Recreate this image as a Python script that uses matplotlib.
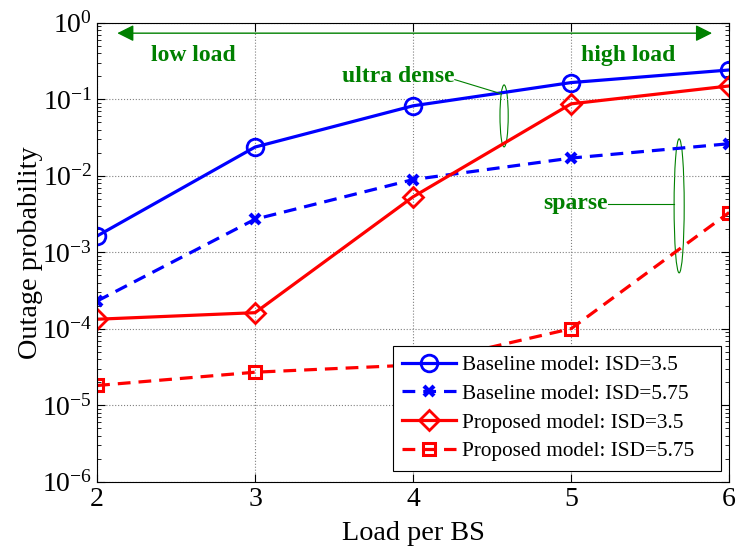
import matplotlib.pyplot as plt
from matplotlib.patches import Ellipse

plt.rcParams['font.family'] = ['Liberation Serif', 'DejaVu Serif']
plt.rcParams['mathtext.fontset'] = 'custom'
plt.rcParams['mathtext.rm'] = 'Liberation Serif'
plt.rcParams['mathtext.it'] = 'Liberation Serif:italic'

load = [2, 3, 4, 5, 6]
base_35 = [1.63e-3, 2.37e-2, 8.2e-2, 0.165, 0.241]
base_575 = [2.3e-4, 2.7e-3, 8.9e-3, 1.7e-2, 2.62e-2]
prop_35 = [1.33e-4, 1.62e-4, 5.3e-3, 8.7e-2, 0.149]
prop_575 = [1.81e-5, 2.7e-5, 3.35e-5, 1.0e-4, 3.3e-3]

fig = plt.figure(figsize=(7.47, 5.54), dpi=100)
ax = fig.add_axes([0.130, 0.1305, 0.846, 0.8285])

lw = 2.3
ax.semilogy(load, base_35, '-', color='blue', lw=lw, marker='o', ms=12, mfc='none', mew=2,
            label='Baseline model: ISD=3.5')
ax.semilogy(load, base_575, '--', color='blue', lw=lw, marker='x', ms=7, mew=3,
            dashes=(4, 2.5), label='Baseline model: ISD=5.75')
ax.semilogy(load, prop_35, '-', color='red', lw=lw, marker='D', ms=10, mfc='none', mew=2,
            label='Proposed model: ISD=3.5')
ax.semilogy(load, prop_575, '--', color='red', lw=lw, marker='s', ms=9, mfc='none', mew=2.2,
            dashes=(4, 2.5), label='Proposed model: ISD=5.75')

ax.set_xlim(2, 6)
ax.set_ylim(1e-6, 1)
ax.set_xticks([2, 3, 4, 5, 6])
ax.tick_params(which='both', direction='in', top=True, right=True, labelsize=20)
ax.tick_params(which='major', length=6)
ax.tick_params(which='minor', length=3)
ax.grid(True, which='major', linestyle=':', color='gray', lw=0.8)
ax.set_xlabel('Load per BS', fontsize=20.3, labelpad=7)
ax.set_ylabel('Outage probability', fontsize=20.3, labelpad=-1)

g = 'green'
ax.annotate('', xy=(2.11, 0.73), xytext=(5.91, 0.73),
            arrowprops=dict(arrowstyle='<|-|>', color=g, lw=1, mutation_scale=25))
ax.text(0.152, 0.952, 'low load', transform=ax.transAxes, color=g, fontsize=17,
        fontweight='bold', ha='center', va='top')
ax.text(0.84, 0.952, 'high load', transform=ax.transAxes, color=g, fontsize=17,
        fontweight='bold', ha='center', va='top')
ax.text(0.565, 0.882, 'ultra dense', transform=ax.transAxes, color=g, fontsize=17,
        fontweight='bold', ha='right', va='center')
ax.plot([0.566, 0.64], [0.876, 0.845], transform=ax.transAxes, color=g, lw=0.8)
ax.add_patch(Ellipse((0.644, 0.797), 0.013, 0.135, transform=ax.transAxes,
                     fill=False, ec=g, lw=0.8))
ax.text(0.808, 0.606, 'sparse', transform=ax.transAxes, color=g, fontsize=17,
        fontweight='bold', ha='right', va='center')
ax.plot([0.809, 0.913], [0.606, 0.606], transform=ax.transAxes, color=g, lw=0.8)
ax.add_patch(Ellipse((0.921, 0.601), 0.016, 0.292, transform=ax.transAxes,
                     fill=False, ec=g, lw=0.8))

# matlab style legend: wide box, entries left aligned
leg = ax.legend(loc='lower left', bbox_to_anchor=(0.468, 0.0233, 0.519, 0.266), mode='expand',
                fontsize=15.3, fancybox=False, framealpha=1, edgecolor='black',
                handlelength=2.5, borderpad=0.45, labelspacing=0.42,
                handletextpad=0.3, borderaxespad=0)
leg.get_frame().set_linewidth(0.8)

fig.savefig('out.png', dpi=100)
